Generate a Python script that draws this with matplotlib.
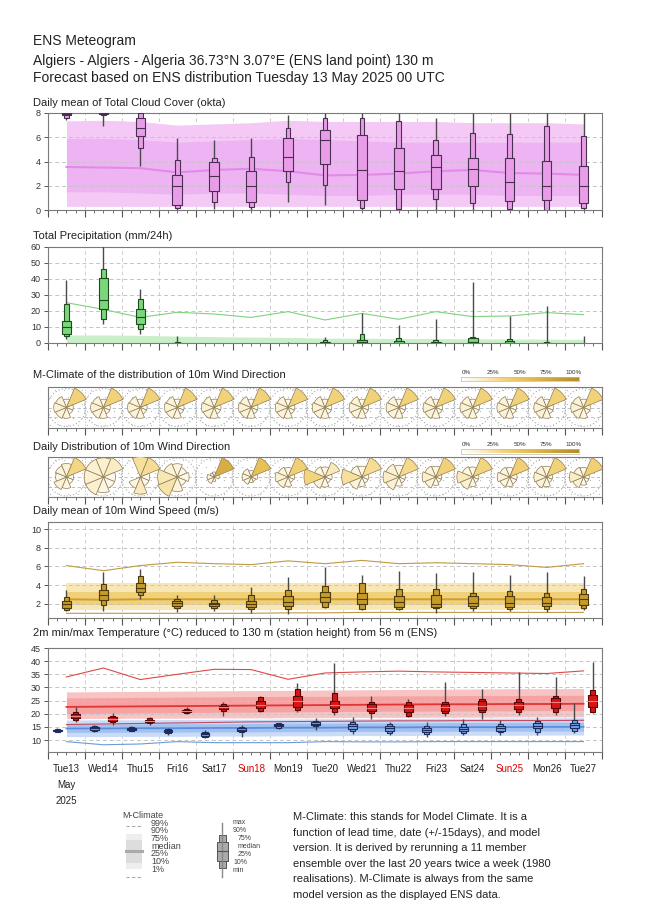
import numpy as np
import matplotlib
matplotlib.use("Agg")
import matplotlib.pyplot as plt
import matplotlib.transforms as mtrans
from matplotlib.patches import Rectangle, Wedge, Circle
from matplotlib.colors import LinearSegmentedColormap
from matplotlib.ticker import MultipleLocator

plt.rcParams['font.family'] = ['Liberation Sans', 'DejaVu Sans']

# ---------------- data ----------------
day_labels = ["Tue13", "Wed14", "Thu15", "Fri16", "Sat17", "Sun18", "Mon19", "Tue20",
              "Wed21", "Thu22", "Fri23", "Sat24", "Sun25", "Mon26", "Tue27"]
weekend_days = ["Sun18", "Sun25"]

# box stats: [min, p10, p25, median, p75, p90, max]
cloud_boxes = [
    [7.4, 7.6, 7.8, 7.95, 8, 8, 8], [6.9, 7.8, 7.9, 8, 8, 8, 8],
    [3.6, 5.1, 6.1, 6.8, 7.6, 8, 8], [0, 0.15, 0.4, 1.95, 2.9, 4.1, 5.9],
    [0.1, 0.64, 1.6, 2.8, 3.95, 4.25, 5.8], [0, 0.22, 0.64, 1.95, 3.25, 4.36, 5.9],
    [0.7, 2.3, 3.25, 4.4, 5.9, 6.8, 7.8], [0.4, 2.1, 3.8, 5.8, 6.6, 7.55, 8],
    [0, 0.14, 0.83, 3.33, 6.2, 7.55, 8], [0, 0.05, 1.72, 3.25, 5.14, 7.36, 8],
    [0, 0.9, 1.75, 3.55, 4.5, 5.78, 7.6], [0, 0.55, 2.0, 3.4, 4.3, 6.33, 8],
    [0, 0.1, 0.75, 2.33, 4.25, 6.3, 8], [0, 0, 0.8, 1.97, 4.05, 6.95, 8],
    [0, 0.14, 0.6, 1.97, 3.64, 6.1, 8]]
cloud_mc_p10 = [0.3, 0.3, 0.3, 0.3, 0.3, 0.3, 0.3, 0.3, 0.3, 0.3, 0.3, 0.3, 0.3, 0.3, 0.3]
cloud_mc_p25 = [1.5, 1.5, 1.4, 1.3, 1.4, 1.4, 1.3, 1.2, 1.2, 1.3, 1.3, 1.3, 1.2, 1.2, 1.2]
cloud_mc_med = [3.55, 3.5, 3.45, 3.1, 3.3, 3.4, 3.2, 2.85, 2.9, 3.0, 3.2, 3.3, 3.05, 3.0, 2.9]
cloud_mc_p75 = [5.9, 5.9, 5.8, 5.6, 5.7, 5.8, 5.9, 5.8, 5.7, 5.6, 5.6, 5.6, 5.6, 5.6, 5.6]
cloud_mc_p90 = [7.35, 7.4, 7.3, 7.0, 7.1, 7.2, 7.4, 7.3, 7.3, 7.3, 7.3, 7.2, 7.2, 7.2, 7.1]

precip_boxes = [
    [2.3, 4.4, 5.4, 9.8, 14, 24.4, 39.4], [11.9, 14.8, 21, 26.9, 40.4, 46.2, 62],
    [5.6, 8.5, 11.9, 16.0, 21.5, 27.3, 33.5], [0, 0, 0, 0, 0.2, 0.6, 4.4],
    [0, 0, 0, 0, 0, 0, 0], [0, 0, 0, 0, 0, 0, 0], [0, 0, 0, 0, 0, 0, 0.5],
    [0, 0, 0, 0.2, 0.8, 1.9, 3.9], [0, 0, 0.2, 0.5, 2.0, 5.4, 18.5],
    [0, 0, 0, 0.3, 1.0, 2.9, 11.2], [0, 0, 0, 0.2, 0.8, 1.9, 14.8],
    [0, 0, 0.3, 0.8, 2.9, 4.0, 38], [0, 0, 0, 0.3, 1.0, 2.3, 17],
    [0, 0, 0, 0, 0.2, 0.5, 23], [0, 0, 0, 0, 0, 0, 4.4]]
precip_mc_p90 = [5, 5, 4.8, 4.3, 4, 3.7, 3.5, 3, 3, 2.8, 2.8, 2.6, 2.5, 2.4, 2.3]
precip_mc_p99 = [25.2, 21, 16, 19.2, 18.1, 16, 19.6, 14.4, 18.5, 14.8, 19.6, 16.5, 16.9, 19, 17.7]

dir_angles = [0, 45, 90, 135, 180, 225, 270, 315]   # N NE E SE S SW W NW
mclim_dir_freq = [6, 38, 4, 4, 10, 12, 14, 12]
daily_dir_freq = [
    [14, 34, 4, 4, 10, 14, 9, 11], [15, 18, 6, 6, 10, 15, 15, 15],
    [28, 30, 6, 6, 20, 10, 0, 0], [10, 6, 8, 5, 12, 25, 22, 12],
    [4, 70, 4, 0, 3, 8, 8, 3], [5, 55, 5, 3, 4, 8, 10, 10],
    [8, 40, 4, 3, 8, 12, 15, 10], [8, 20, 4, 3, 8, 12, 35, 10],
    [8, 30, 3, 3, 6, 12, 28, 10], [10, 32, 3, 3, 6, 14, 18, 14],
    [10, 38, 3, 3, 6, 12, 16, 12], [8, 35, 3, 3, 7, 14, 20, 10],
    [8, 40, 5, 5, 8, 10, 14, 10], [10, 38, 3, 3, 8, 12, 14, 12],
    [8, 40, 3, 3, 6, 12, 18, 10]]

wind_boxes = [
    [1.2, 1.35, 1.6, 2.0, 2.3, 2.7, 3.5], [1.25, 1.9, 2.4, 2.96, 3.5, 4.1, 5.4],
    [2.5, 2.96, 3.3, 3.75, 4.2, 5.0, 5.75], [1.1, 1.54, 1.8, 2.07, 2.3, 2.5, 3.0],
    [1.25, 1.54, 1.8, 2.0, 2.15, 2.4, 3.0], [1.0, 1.43, 1.7, 2.0, 2.3, 2.96, 3.8],
    [0.93, 1.46, 1.8, 2.2, 2.9, 3.5, 4.9], [1.54, 1.7, 2.2, 2.7, 3.3, 3.96, 5.9],
    [1.35, 1.46, 1.96, 2.53, 3.15, 4.2, 5.1], [1.35, 1.43, 1.7, 2.25, 2.8, 3.6, 5.55],
    [1.0, 1.54, 1.7, 1.97, 2.96, 3.6, 5.3], [1.2, 1.54, 1.8, 2.07, 2.8, 3.15, 5.4],
    [1.2, 1.43, 1.7, 2.07, 2.9, 3.4, 5.1], [1.1, 1.46, 1.8, 2.07, 2.7, 3.15, 5.4],
    [1.35, 1.54, 1.9, 2.53, 3.05, 3.6, 5.0]]
wind_mc_p1 = [1.0, 1.0, 1.0, 1.0, 1.0, 1.0, 1.05, 1.05, 1.1, 1.1, 1.1, 1.1, 1.1, 1.1, 1.1]
wind_mc_p10 = [1.35] * 15
wind_mc_p25 = [1.9] * 15
wind_mc_med = [2.5, 2.45, 2.5, 2.5, 2.5, 2.5, 2.5, 2.5, 2.5, 2.5, 2.5, 2.5, 2.5, 2.5, 2.5]
wind_mc_p75 = [3.3] * 15
wind_mc_p90 = [4.2] * 15
wind_mc_p99 = [6.1, 5.55, 6.1, 6.45, 6.3, 6.2, 6.6, 6.3, 6.65, 6.3, 6.4, 6.3, 6.2, 5.9, 6.3]

tmin_boxes = [
    [13.0, 13.2, 13.5, 13.8, 14.0, 14.3, 14.7], [13.0, 13.5, 13.9, 14.4, 14.9, 15.3, 15.9],
    [13.3, 13.5, 13.9, 14.3, 14.7, 15.0, 15.5], [11.8, 12.5, 13.0, 13.4, 13.9, 14.2, 14.6],
    [10.6, 11.2, 11.7, 12.2, 12.7, 13.2, 13.8], [11.0, 13.0, 13.6, 14.0, 14.5, 15.1, 15.7],
    [14.2, 14.5, 15.2, 15.7, 16.1, 16.3, 16.6], [14.0, 15.3, 15.8, 16.2, 16.8, 17.3, 18.3],
    [12.3, 13.3, 14.3, 15.4, 16.2, 17.0, 18.9], [12.0, 12.6, 13.5, 14.4, 15.2, 16.0, 16.8],
    [11.3, 12.3, 13.1, 13.9, 14.7, 15.5, 17.0], [11.8, 12.5, 13.4, 14.2, 15.0, 16.0, 18.0],
    [12.0, 12.9, 13.6, 14.4, 15.3, 16.2, 17.6], [11.8, 13.2, 14.5, 15.5, 16.4, 17.3, 18.6],
    [12.6, 13.4, 14.6, 15.7, 16.6, 17.6, 23.9]]
tmax_boxes = [
    [16.9, 17.6, 18.3, 19.1, 19.9, 20.6, 22.6], [15.9, 16.7, 17.3, 17.9, 18.6, 19.2, 20.4],
    [15.9, 16.3, 16.8, 17.3, 17.8, 18.3, 18.6], [19.9, 20.2, 20.6, 21.0, 21.4, 21.8, 22.5],
    [19.3, 21.0, 21.8, 22.4, 23.0, 23.7, 24.4], [20.5, 21.0, 22.0, 23.3, 24.9, 26.2, 26.6],
    [20.5, 21.3, 22.7, 24.9, 26.9, 29.5, 31.5], [19.7, 20.5, 22.3, 23.5, 24.7, 27.9, 39.2],
    [17.9, 20.2, 21.0, 22.3, 23.6, 24.4, 26.9], [18.6, 19.3, 20.5, 22.0, 23.3, 24.4, 25.6],
    [19.3, 20.2, 21.0, 22.7, 23.8, 24.6, 31.9], [17.9, 20.5, 21.4, 23.0, 24.7, 25.6, 29.5],
    [19.7, 20.5, 21.8, 23.5, 24.6, 25.6, 35.7], [19.4, 20.5, 22.0, 24.4, 25.9, 26.9, 34.1],
    [20.2, 20.5, 22.7, 24.9, 27.2, 29.1, 39.6]]
tmax_mc_p1 = [15.9, 16.1, 16.3, 16.5, 16.7, 16.9, 17.0, 17.1, 17.2, 17.3, 17.3, 17.4, 17.4, 17.4, 17.5]
tmax_mc_p10 = [18.2, 18.2, 18.3, 18.3, 18.4, 18.4, 18.5, 18.5, 18.6, 18.6, 18.7, 18.7, 18.8, 18.8, 18.8]
tmax_mc_p25 = [20.1, 20.2, 20.3, 20.4, 20.5, 20.6, 20.7, 20.8, 20.9, 21.0, 21.0, 21.1, 21.1, 21.2, 21.2]
tmax_mc_med = [22.6, 22.7, 22.8, 22.9, 23.0, 23.1, 23.2, 23.3, 23.4, 23.5, 23.6, 23.6, 23.7, 23.7, 23.8]
tmax_mc_p75 = [26.0, 26.1, 26.2, 26.3, 26.4, 26.5, 26.6, 26.6, 26.7, 26.8, 26.8, 26.9, 26.9, 27.0, 27.0]
tmax_mc_p90 = [28.3, 28.4, 28.5, 28.6, 28.7, 28.8, 28.9, 29.0, 29.1, 29.2, 29.3, 29.4, 29.5, 29.5, 29.6]
tmax_mc_p99 = [34.0, 37.4, 33.0, 35.0, 36.9, 36.8, 33.1, 35.5, 35.9, 36.2, 35.9, 35.7, 35.5, 35.3, 36.3]
tmin_mc_p1 = [9.4, 8.2, 8.5, 9.4, 9.0, 9.0, 9.0, 9.4, 9.3, 9.3, 9.4, 9.4, 9.4, 9.4, 9.4]
tmin_mc_p10 = [11.3, 11.3, 11.4, 11.4, 11.5, 11.5, 11.6, 11.6, 11.7, 11.7, 11.8, 11.8, 11.8, 11.9, 11.9]
tmin_mc_p25 = [12.9, 12.9, 13.0, 13.0, 13.1, 13.1, 13.2, 13.2, 13.3, 13.3, 13.3, 13.4, 13.4, 13.4, 13.4]
tmin_mc_med = [14.4, 14.4, 14.5, 14.5, 14.6, 14.6, 14.7, 14.7, 14.8, 14.8, 14.9, 14.9, 14.9, 15.0, 15.0]
tmin_mc_p75 = [16.0, 16.0, 16.1, 16.2, 16.2, 16.3, 16.4, 16.4, 16.5, 16.5, 16.6, 16.7, 16.7, 16.8, 16.8]
tmin_mc_p90 = [17.6, 17.7, 17.7, 17.8, 17.9, 17.9, 18.0, 18.1, 18.1, 18.2, 18.3, 18.3, 18.4, 18.4, 18.5]

# ---------------- figure ----------------
W, H = 650, 916
fig = plt.figure(figsize=(6.5, 9.16), dpi=100)
fig.patch.set_facecolor('white')

def add_ax(x0, y0, x1, y1):
    return fig.add_axes([x0 / W, 1 - y1 / H, (x1 - x0) / W, (y1 - y0) / H])

def ftext(x, y, s, **kw):
    kw.setdefault('va', 'center')
    return fig.text(x / W, 1 - y / H, s, **kw)

XL, XR = 48, 602
ndays = len(day_labels)
noon = np.arange(ndays) + 0.5
t_min_pos = np.arange(ndays) + 0.25
t_max_pos = np.arange(ndays) + 0.75

def style(ax, ylim, yticks):
    ax.set_xlim(0, ndays)
    ax.set_ylim(*ylim)
    ax.set_yticks(yticks)
    ax.xaxis.set_major_locator(MultipleLocator(1))
    ax.xaxis.set_minor_locator(MultipleLocator(0.25))
    ax.tick_params(axis='x', which='major', direction='out', length=5, width=0.8,
                   color='#555555', labelbottom=False)
    ax.tick_params(axis='x', which='minor', direction='out', length=2.5, width=0.6,
                   color='#555555')
    ax.tick_params(axis='y', direction='out', length=3, width=0.7, labelsize=6.5,
                   pad=2, color='#555555', labelcolor='#333333')
    for sp in ax.spines.values():
        sp.set_color('#7a7a7a')
        sp.set_linewidth(0.8)
    ax.grid(axis='x', which='major', ls=(0, (4, 3)), color='#cfcfcf', lw=0.7)
    ax.set_axisbelow(True)
    for yv in yticks:
        if ylim[0] < yv < ylim[1]:
            ax.axhline(yv, ls=(0, (4, 3)), color='#c4c4c4', lw=0.7, zorder=1.5)

def draw_boxes(ax, xs, stats, face, edge, wide=0.26, narrow=0.13, whisk='#4a4a4a',
               medc=None):
    for x, s in zip(xs, stats):
        mn, p10, p25, med, p75, p90, mx = s
        if mx <= 0:
            continue
        ax.plot([x, x], [mn, mx], color=whisk, lw=1.0, zorder=4, solid_capstyle='butt')
        if p90 > p10:
            ax.add_patch(Rectangle((x - narrow / 2, p10), narrow, p90 - p10, fc=face,
                                   ec=edge, lw=0.8, zorder=5))
        if p75 > p25:
            ax.add_patch(Rectangle((x - wide / 2, p25), wide, p75 - p25, fc=face,
                                   ec=edge, lw=0.8, zorder=6))
        if p90 > 0:
            ax.plot([x - wide / 2, x + wide / 2], [med, med], color=medc or edge,
                    lw=0.8, zorder=7)

# ---------------- titles ----------------
ftext(33, 41, "ENS Meteogram", fontsize=10, color='#222222')
ftext(33, 61, "Algiers - Algiers - Algeria 36.73°N 3.07°E (ENS land point) 130 m",
      fontsize=10, color='#222222')
ftext(33, 78, "Forecast based on ENS distribution Tuesday 13 May 2025 00 UTC",
      fontsize=10, color='#222222')

# ---------------- cloud ----------------
ax1 = add_ax(XL, 113, XR, 210)
style(ax1, (0, 8), [0, 2, 4, 6, 8])
ax1.fill_between(noon, cloud_mc_p10, cloud_mc_p90, color='#f4c9f6', lw=0, zorder=1)
ax1.fill_between(noon, cloud_mc_p25, cloud_mc_p75, color='#eeb3f2', lw=0, zorder=1.1)
ax1.plot(noon, cloud_mc_med, color='#e08ce6', lw=1.5, zorder=2)
draw_boxes(ax1, noon, cloud_boxes, '#e99de9', '#4a3050')
ftext(33, 103, "Daily mean of Total Cloud Cover (okta)", fontsize=8, color='#222222')

# ---------------- precipitation ----------------
ax2 = add_ax(XL, 247, XR, 343)
style(ax2, (0, 60), [0, 10, 20, 30, 40, 50, 60])
ax2.fill_between(noon, 0, precip_mc_p90, color='#c9efc9', lw=0, zorder=1)
ax2.plot(noon, precip_mc_p99, color='#7fd27f', lw=0.8, zorder=2)
draw_boxes(ax2, noon, precip_boxes, '#7ad77a', '#1f4a1f')
ftext(33, 236, "Total Precipitation (mm/24h)", fontsize=8, color='#222222')

# ---------------- wind roses ----------------
rose_cmap = LinearSegmentedColormap.from_list(
    'rose', [(0.0, '#ffffff'), (0.15, '#fbf0d0'), (0.35, '#f4d57f'),
             (0.6, '#e4ba4c'), (1.0, '#b48c25')])

def rose_panel(y0, y1, title, title_y, freqs_per_day, cb_y):
    ax = add_ax(XL, y0, XR, y1)
    ax.set_xlim(0, ndays)
    ax.set_ylim(-1, 1)
    ax.set_yticks([])
    ax.xaxis.set_major_locator(MultipleLocator(1))
    ax.xaxis.set_minor_locator(MultipleLocator(0.25))
    ax.tick_params(axis='x', which='major', direction='out', length=5, width=0.8,
                   color='#555555', labelbottom=False)
    ax.tick_params(axis='x', which='minor', direction='out', length=2.5, width=0.6,
                   color='#555555')
    for sp in ax.spines.values():
        sp.set_color('#7a7a7a')
        sp.set_linewidth(0.8)
    ax.grid(axis='x', which='major', ls=(0, (1, 2)), color='#b0b0b0', lw=0.7)
    ax.set_axisbelow(True)
    # light stipple background (regular staggered lattice)
    gx, gy = np.meshgrid(np.arange(0.004, 1, 0.0165), np.arange(0.08, 1, 0.17))
    gx = gx + (np.arange(gy.shape[0])[:, None] % 2) * 0.0082
    ax.scatter(gx.ravel(), gy.ravel(), s=0.7, color='#b5b5b5', lw=0,
               transform=ax.transAxes, zorder=0.3)
    ax.axhline(0, ls=(0, (4, 3)), color='#a9b9d2', lw=0.6, zorder=0.6)
    ax.axhline(-0.48, ls=(0, (4, 3)), color='#a9b9d2', lw=0.6, zorder=0.6)
    for x, freqs in zip(noon, freqs_per_day):
        trans = fig.dpi_scale_trans + mtrans.ScaledTranslation(x, 0, ax.transData)
        ax.add_patch(Circle((0, 0), 0.19, transform=trans, fill=False, ls=(0, (1, 2)),
                            ec='#a8a8a8', lw=0.8, zorder=0.7))
        fmax = max(freqs)
        for ang, f in zip(dir_angles, freqs):
            if f <= 0:
                continue
            r = 0.21 * np.sqrt(f / fmax)
            ax.add_patch(Wedge((0, 0), r, 90 - ang - 22.5, 90 - ang + 22.5,
                               transform=trans, fc=rose_cmap(f / 100.0),
                               ec='#8e7d55', lw=0.5, zorder=5))
    # colour scale
    cax = fig.add_axes([461 / W, 1 - (cb_y + 2.5) / H, 118 / W, 5 / H])
    cax.imshow(np.linspace(0, 1, 256)[None, :], aspect='auto', cmap=rose_cmap,
               extent=(0, 1, 0, 1))
    cax.set_xticks([])
    cax.set_yticks([])
    for sp in cax.spines.values():
        sp.set_color('#bbbbbb')
        sp.set_linewidth(0.5)
    for i, lab in enumerate(["0%", "25%", "50%", "75%", "100%"]):
        ftext(466 + i * 26.8, cb_y - 7, lab, fontsize=4.5, ha='center', color='#333333')
    ftext(33, title_y, title, fontsize=8, color='#222222')
    return ax

rose_panel(387, 428, "M-Climate of the distribution of 10m Wind Direction", 375,
           [mclim_dir_freq] * ndays, 379)
rose_panel(457, 497, "Daily Distribution of 10m Wind Direction", 447,
           daily_dir_freq, 451)

# ---------------- wind speed ----------------
ax4 = add_ax(XL, 522, XR, 618)
style(ax4, (0.5, 10.75), [2, 4, 6, 8, 10])
ax4.fill_between(noon, wind_mc_p10, wind_mc_p90, color='#f8e6b4', lw=0, zorder=1)
ax4.fill_between(noon, wind_mc_p25, wind_mc_p75, color='#f1d07a', lw=0, zorder=1.1)
ax4.plot(noon, wind_mc_med, color='#cf9f2a', lw=1.4, zorder=2)
ax4.plot(noon, wind_mc_p99, color='#c09a3e', lw=0.8, zorder=2)
ax4.plot(noon, wind_mc_p1, color='#c09a3e', lw=0.8, zorder=2)
draw_boxes(ax4, noon, wind_boxes, '#c59b2a', '#4d3b0e', wide=0.26, narrow=0.15)
ftext(33, 511, "Daily mean of 10m Wind Speed (m/s)", fontsize=8, color='#222222')

# ---------------- temperature ----------------
ax5 = add_ax(XL, 648, XR, 752)
style(ax5, (5.45, 45), [10, 15, 20, 25, 30, 35, 40, 45])
ax5.fill_between(noon, tmax_mc_p10, tmax_mc_p90, color='#f8c3c3', lw=0, zorder=1)
ax5.fill_between(noon, tmax_mc_p25, tmax_mc_p75, color='#f4a2a2', lw=0, zorder=1.1)
ax5.fill_between(noon, tmin_mc_p10, tmin_mc_p90, color='#c9dbf7', lw=0, zorder=1)
ax5.fill_between(noon, tmin_mc_p25, tmin_mc_p75, color='#a3c1f0', lw=0, zorder=1.1)
ax5.plot(noon, tmax_mc_med, color='#e03636', lw=1.3, zorder=2)
ax5.plot(noon, tmin_mc_med, color='#5b8fdc', lw=1.3, zorder=2)
ax5.plot(noon, tmax_mc_p99, color='#e04848', lw=0.8, zorder=2)
ax5.plot(noon, tmax_mc_p1, color='#c24a62', lw=0.8, zorder=2)
ax5.plot(noon, tmin_mc_p1, color='#6b9bd6', lw=0.8, zorder=2)
draw_boxes(ax5, t_min_pos, tmin_boxes, '#74a3e6', '#1c2c5c', wide=0.24, narrow=0.14)
draw_boxes(ax5, t_max_pos, tmax_boxes, '#d81515', '#5a0505', wide=0.24, narrow=0.14,
           medc='#f08080')
ftext(33, 633, "2m min/max Temperature (°C) reduced to 130 m (station height) from 56 m (ENS)",
      fontsize=8, color='#222222')

lab_tr = mtrans.blended_transform_factory(ax5.transData, fig.transFigure)
for x, lab in zip(noon, day_labels):
    ax5.text(x, 1 - 769 / H, lab, transform=lab_tr, ha='center', va='center',
             fontsize=7, color='#e00000' if lab in weekend_days else '#222222')
ax5.text(noon[0], 1 - 785 / H, "May", transform=lab_tr, ha='center', va='center',
         fontsize=7, color='#222222')
ax5.text(noon[0], 1 - 801 / H, "2025", transform=lab_tr, ha='center', va='center',
         fontsize=7, color='#222222')

# ---------------- legends ----------------
lax = fig.add_axes([0, 0, 1, 1])
lax.set_xlim(0, W)
lax.set_ylim(H, 0)
lax.axis('off')
ftext(122, 815, "M-Climate", fontsize=6.5, color='#444444')
lax.plot([126, 142], [826, 826], ls=(0, (3, 2)), color='#aaaaaa', lw=0.8)
lax.plot([126, 142], [877, 877], ls=(0, (3, 2)), color='#aaaaaa', lw=0.8)
lax.add_patch(Rectangle((126, 834), 16, 35, fc='#eeeeee', ec='none'))
lax.add_patch(Rectangle((126, 840), 16, 23, fc='#dddddd', ec='none'))
lax.plot([126, 142], [851, 851], color='#aaaaaa', lw=2.2)
for i, lab in enumerate(["99%", "90%", "75%", "median", "25%", "10%", "1%"]):
    ftext(151, 823 + i * 7.7, lab, fontsize=6.5, color='#444444')

bx = 222
lax.plot([bx, bx], [823, 877], color='#888888', lw=1.0)
lax.add_patch(Rectangle((bx - 3.5, 835), 7, 33, fc='#aaaaaa', ec='#555555', lw=0.7))
lax.add_patch(Rectangle((bx - 5.5, 842), 11, 19, fc='#aaaaaa', ec='#555555', lw=0.7))
lax.plot([bx - 5.5, bx + 5.5], [851, 851], color='#555555', lw=0.8)
leg2 = [("max", 233, 823), ("90%", 233, 831), ("75%", 238, 839), ("median", 238, 846),
        ("25%", 238, 854), ("10%", 233, 862), ("min", 233, 870)]
for lab, lx, ly in leg2:
    ftext(lx, ly, lab, fontsize=5, color='#444444')

para = ["M-Climate: this stands for Model Climate. It is a",
        "function of lead time, date (+/-15days), and model",
        "version. It is derived by rerunning a 11 member",
        "ensemble over the last 20 years twice a week (1980",
        "realisations). M-Climate is always from the same",
        "model version as the displayed ENS data."]
for i, line in enumerate(para):
    ftext(293, 817 + i * 15.6, line, fontsize=8, color='#222222')

fig.savefig("out.png", dpi=100, facecolor='white')
